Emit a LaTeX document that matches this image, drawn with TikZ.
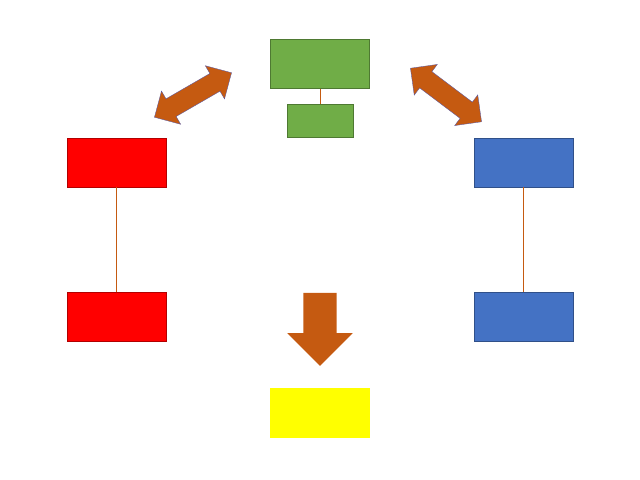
\documentclass[tikz,border=0pt]{standalone}
\usetikzlibrary{shapes.arrows}
\definecolor{rust}{HTML}{C55A11}
\definecolor{grn}{HTML}{70AD47}
\definecolor{blu}{HTML}{4472C4}
\definecolor{ylw}{HTML}{FFFF00}
\tikzset{
  box/.style={draw=#1!70!black,fill=#1,minimum width=39.6mm,minimum height=19.6mm,inner sep=0pt},
  link/.style={draw=rust,thin},
  swap/.style={double arrow,draw=blue!30!gray,fill=rust,inner sep=4mm,double arrow head extend=3.6mm,minimum height=35.6mm},
}
\begin{document}
\begin{tikzpicture}[x=0.4mm,y=-0.4mm]
\useasboundingbox (0,0) rectangle (640,480);
% top
\node[box=grn] (top) at (320,64) {};
\node[box=grn,minimum width=26.4mm,minimum height=13.2mm] (sub) at (320,120.5) {};
\draw[link] (top) -- (sub);
% left column
\node[box=red] (l1) at (116.5,162.5) {};
\node[box=red] (l2) at (116.5,317) {};
\draw[link] (l1) -- (l2);
% right column
\node[box=blu] (r1) at (523.5,162.5) {};
\node[box=blu] (r2) at (523.5,317) {};
\draw[link] (r1) -- (r2);
% bottom
\node[box=ylw,draw=ylw] (res) at (320,413) {};
\node[single arrow,fill=rust,inner sep=6.6mm,single arrow head extend=6.4mm,minimum height=29.2mm,shape border rotate=270] (down) at (320,321) {};
% exchange arrows
\node[swap,rotate=30] (la) at (193,95) {};
\node[swap,rotate=-37] (ra) at (446,95) {};
\end{tikzpicture}
\end{document}
